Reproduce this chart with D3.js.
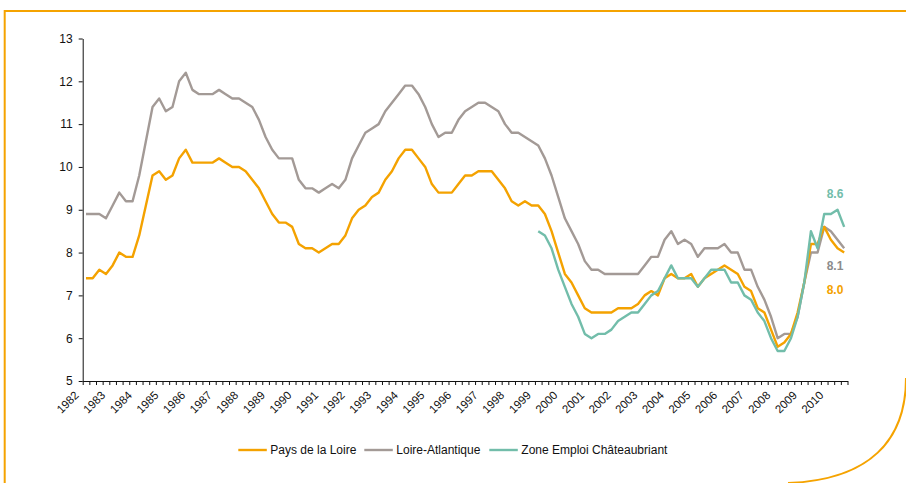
<!DOCTYPE html>
<html>
<head>
<meta charset="utf-8">
<script src="https://cdn.jsdelivr.net/npm/d3@7"></script>
<style>
  html, body { margin: 0; padding: 0; background: #fff; }
  svg { display: block; font-family: "Liberation Sans", Arial, sans-serif; }
</style>
</head>
<body>
<svg id="chart" width="906" height="483"></svg>
<script>
// years on the axis (quarterly data, 1982 T1 .. 2010 T3)
const years = [1982, 1983, 1984, 1985, 1986, 1987, 1988, 1989, 1990, 1991, 1992, 1993, 1994, 1995,
  1996, 1997, 1998, 1999, 2000, 2001, 2002, 2003, 2004, 2005, 2006, 2007, 2008, 2009, 2010];
const lastQuarter = 3; // last year stops at T3

// Pays de la Loire, 1982 T1 -> 2010 T3
const paysDeLaLoire = [
  7.4, 7.4, 7.6, 7.5, 7.7, 8.0, 7.9, 7.9, 8.4, 9.1,
  9.8, 9.9, 9.7, 9.8, 10.2, 10.4, 10.1, 10.1, 10.1, 10.1,
  10.2, 10.1, 10.0, 10.0, 9.9, 9.7, 9.5, 9.2, 8.9, 8.7,
  8.7, 8.6, 8.2, 8.1, 8.1, 8.0, 8.1, 8.2, 8.2, 8.4,
  8.8, 9.0, 9.1, 9.3, 9.4, 9.7, 9.9, 10.2, 10.4, 10.4,
  10.2, 10.0, 9.6, 9.4, 9.4, 9.4, 9.6, 9.8, 9.8, 9.9,
  9.9, 9.9, 9.7, 9.5, 9.2, 9.1, 9.2, 9.1, 9.1, 8.9,
  8.5, 8.0, 7.5, 7.3, 7.0, 6.7, 6.6, 6.6, 6.6, 6.6,
  6.7, 6.7, 6.7, 6.8, 7.0, 7.1, 7.0, 7.4, 7.5, 7.4,
  7.4, 7.5, 7.2, 7.4, 7.5, 7.6, 7.7, 7.6, 7.5, 7.2,
  7.1, 6.7, 6.6, 6.2, 5.8, 5.9, 6.1, 6.6, 7.3, 8.2,
  8.2, 8.6, 8.3, 8.1, 8.0
];

// Loire-Atlantique, 1982 T1 -> 2010 T3
const loireAtlantique = [
  8.9, 8.9, 8.9, 8.8, 9.1, 9.4, 9.2, 9.2, 9.8, 10.6,
  11.4, 11.6, 11.3, 11.4, 12.0, 12.2, 11.8, 11.7, 11.7, 11.7,
  11.8, 11.7, 11.6, 11.6, 11.5, 11.4, 11.1, 10.7, 10.4, 10.2,
  10.2, 10.2, 9.7, 9.5, 9.5, 9.4, 9.5, 9.6, 9.5, 9.7,
  10.2, 10.5, 10.8, 10.9, 11.0, 11.3, 11.5, 11.7, 11.9, 11.9,
  11.7, 11.4, 11.0, 10.7, 10.8, 10.8, 11.1, 11.3, 11.4, 11.5,
  11.5, 11.4, 11.3, 11.0, 10.8, 10.8, 10.7, 10.6, 10.5, 10.2,
  9.8, 9.3, 8.8, 8.5, 8.2, 7.8, 7.6, 7.6, 7.5, 7.5,
  7.5, 7.5, 7.5, 7.5, 7.7, 7.9, 7.9, 8.3, 8.5, 8.2,
  8.3, 8.2, 7.9, 8.1, 8.1, 8.1, 8.2, 8.0, 8.0, 7.6,
  7.6, 7.2, 6.9, 6.5, 6.0, 6.1, 6.1, 6.5, 7.3, 8.0,
  8.0, 8.6, 8.5, 8.3, 8.1
];

// Zone Emploi Châteaubriant, only from 1999 T1
const chateaubriantStart = 1999;
const chateaubriant = [
  8.5, 8.4, 8.1, 7.6, 7.2, 6.8, 6.5, 6.1, 6.0, 6.1,
  6.1, 6.2, 6.4, 6.5, 6.6, 6.6, 6.8, 7.0, 7.1, 7.4,
  7.7, 7.4, 7.4, 7.4, 7.2, 7.4, 7.6, 7.6, 7.6, 7.3,
  7.3, 7.0, 6.9, 6.6, 6.4, 6.0, 5.7, 5.7, 6.0, 6.5,
  7.3, 8.5, 8.1, 8.9, 8.9, 9.0, 8.6
];

const yTicks = [5, 6, 7, 8, 9, 10, 11, 12, 13];

const seriesNames = ["Pays de la Loire", "Loire-Atlantique", "Zone Emploi Châteaubriant"];
const seriesColors = ["#F4A200", "#A39A96", "#72BDAA"];
const endLabelColors = ["#F4A200", "#8C8C8C", "#72BDAA"];

// build quarter categories
const quarters = [];
years.forEach((yr, k) => {
  const n = k === years.length - 1 ? lastQuarter : 4;
  for (let q = 1; q <= n; q++) quarters.push(yr + "-T" + q);
});

const series = [
  quarters.map((q, i) => ({ q, v: paysDeLaLoire[i] })),
  quarters.map((q, i) => ({ q, v: loireAtlantique[i] })),
  quarters.slice(quarters.indexOf(chateaubriantStart + "-T1"))
    .map((q, i) => ({ q, v: chateaubriant[i] }))
];

const svg = d3.select("#chart");

// frame
const frame = svg.append("g").attr("fill", "none").attr("stroke", "#F5A300");
frame.append("path").attr("d", "M4.7,483V11H906").attr("stroke-width", 2);
frame.append("path").attr("d", "M906,378C906,440 870,480 788,483").attr("stroke-width", 2);

const plotLeft = 82.7, plotRight = 847.5, plotTop = 38.5, plotBottom = 381;

const x = d3.scaleBand().domain(quarters).range([plotLeft, plotRight]).padding(0);
const xc = q => x(q) + x.bandwidth() / 2;
const y = d3.scaleLinear().domain([5, 13]).range([plotBottom, plotTop]);

// y axis
const yAxis = svg.append("g")
  .attr("transform", `translate(${plotLeft},0)`)
  .call(d3.axisLeft(y).tickValues(yTicks).tickSize(4).tickSizeOuter(0).tickPadding(6));
yAxis.selectAll("text").attr("font-size", 12).attr("fill", "#111");
yAxis.attr("font-family", null);
yAxis.selectAll("line, path").attr("stroke", "#111");

// x axis: ticks between categories
const xEdges = d3.scaleLinear().domain([0, quarters.length]).range([plotLeft, plotRight]);
const xAxis = svg.append("g")
  .attr("transform", `translate(0,${plotBottom})`)
  .call(d3.axisBottom(xEdges).tickValues(d3.range(quarters.length + 1)).tickSize(4)
    .tickSizeOuter(0).tickFormat(""));
xAxis.selectAll("line, path").attr("stroke", "#111");

// year labels
svg.append("g")
  .selectAll("text")
  .data(quarters.filter(q => q.endsWith("-T1")))
  .join("text")
  .attr("transform", q => `translate(${xc(q) - 6.5},${plotBottom + 15}) rotate(-45)`)
  .attr("text-anchor", "end")
  .attr("font-size", 11.5)
  .attr("fill", "#111")
  .text(q => q.slice(0, 4));

// lines
const line = d3.line().x(d => xc(d.q)).y(d => y(d.v));
svg.append("g")
  .attr("fill", "none")
  .attr("stroke-width", 2.4)
  .attr("stroke-linejoin", "round")
  .selectAll("path")
  .data([1, 0, 2])
  .join("path")
  .attr("stroke", i => seriesColors[i])
  .attr("d", i => line(series[i]));

// end value labels
const endLabels = [
  { i: 2, text: "8.6", y: 197.5 },
  { i: 1, text: "8.1", y: 270 },
  { i: 0, text: "8.0", y: 293.5 }
];
svg.append("g")
  .selectAll("text")
  .data(endLabels)
  .join("text")
  .attr("x", 835)
  .attr("y", d => d.y)
  .attr("text-anchor", "middle")
  .attr("font-size", 12)
  .attr("font-weight", "bold")
  .attr("fill", d => endLabelColors[d.i])
  .text(d => d.text);

// legend
const legendX = [238.3, 364.3, 489.3];
const legend = svg.append("g")
  .selectAll("g")
  .data(seriesNames)
  .join("g")
  .attr("transform", (d, i) => `translate(${legendX[i]},450)`);
legend.append("line")
  .attr("x1", 0).attr("x2", 28.5)
  .attr("stroke", (d, i) => seriesColors[i])
  .attr("stroke-width", 2.4);
legend.append("text")
  .attr("x", 32)
  .attr("dy", "0.35em")
  .attr("font-size", 12)
  .attr("fill", "#111")
  .text(d => d);
</script>
</body>
</html>
